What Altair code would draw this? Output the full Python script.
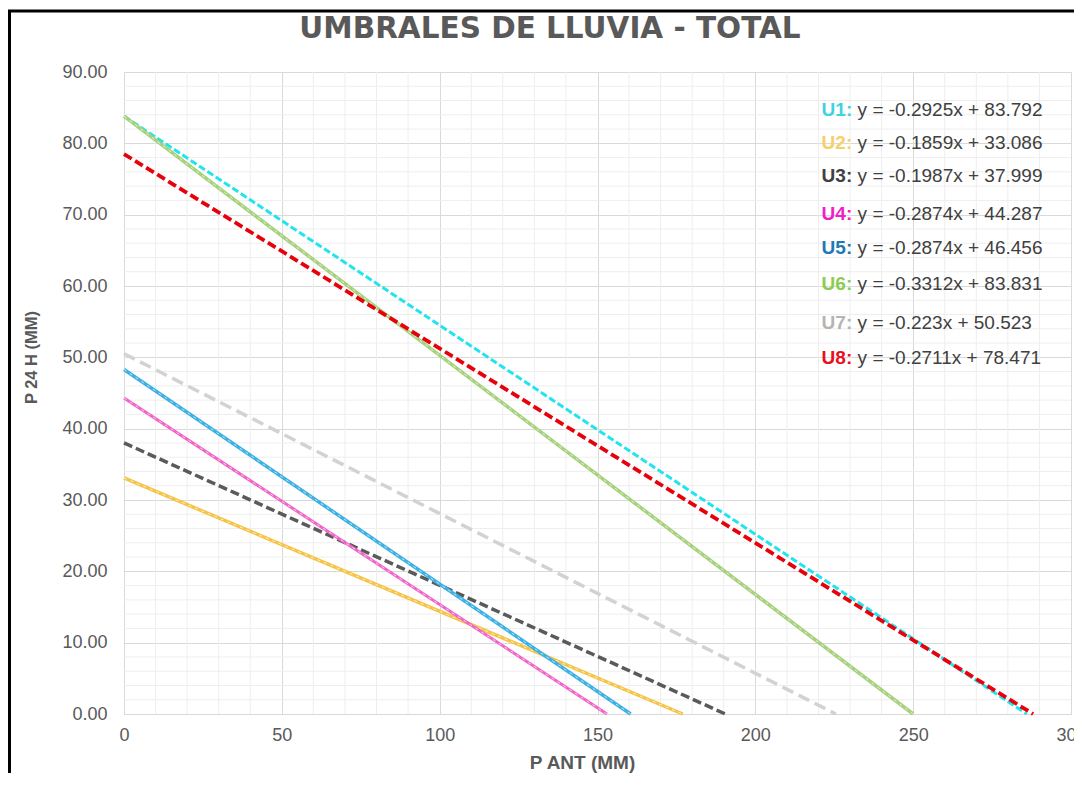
import altair as alt
import pandas as pd

# ---------------- data ----------------
series = ["U1", "U2", "U3", "U4", "U5", "U6", "U7", "U8"]
start_y = [83.8, 33.1, 38.0, 44.3, 48.3, 83.8, 50.5, 78.5]      # value at P ANT = 0
end_x = [286.0, 177.0, 190.5, 153.0, 160.5, 250.0, 225.5, 288.0]  # P ANT where the line reaches 0
equations = [
    "y = -0.2925x + 83.792",
    "y = -0.1859x + 33.086",
    "y = -0.1987x + 37.999",
    "y = -0.2874x + 44.287",
    "y = -0.2874x + 46.456",
    "y = -0.3312x + 83.831",
    "y = -0.223x + 50.523",
    "y = -0.2711x + 78.471",
]
x_ticks = [0, 50, 100, 150, 200, 250, 300]
y_ticks = [0, 10, 20, 30, 40, 50, 60, 70, 80, 90]
x_minor = [v for v in range(10, 300, 10) if v % 50]
y_minor = [v for v in range(2, 90, 2) if v % 10]

# ---------------- styles / layout ----------------
line_colors = ["#22e4ee", "#f5c446", "#5a5a5a", "#f064c8", "#3cb0e2", "#a6d17c", "#d2d2d2", "#e8000b"]
line_dash = [[7, 3], None, [9, 4], None, None, None, [12, 6], [9, 4]]
line_width = [3, 3.5, 3.5, 3, 3.5, 3.5, 3.5, 3.8]
prefix_colors = ["#3fd3e0", "#f6cf6a", "#404040", "#f020c8", "#1f78b8", "#8ccc50", "#b4b4b4", "#e8101e"]
label_x = 221
label_y = [84.7, 80.0, 75.4, 70.1, 65.3, 60.3, 54.8, 49.9]

GRAY = "#595959"
FONT = "Liberation Sans"

rows = []
for s, y0, x1 in zip(series, start_y, end_x):
    rows.append({"serie": s, "x": 0.0, "y": y0})
    rows.append({"serie": s, "x": x1, "y": 0.0})
lines_df = pd.DataFrame(rows)

eq_df = pd.DataFrame({
    "serie": series,
    "pre": [s + ":" for s in series],
    "eq": equations,
    "lx": [label_x] * len(series),
    "ly": label_y,
})

xs = alt.Scale(domain=[0, 300], nice=False, zero=False)
ys = alt.Scale(domain=[0, 90], nice=False, zero=False)

x_axis = alt.Axis(
    values=x_ticks, format="d", grid=True, ticks=False, domain=False,
    labelFont=FONT, labelFontSize=18, labelColor=GRAY, labelPadding=12,
    labelFlush=False, labelOverlap=False, labelBound=False,
    title="P ANT (MM)", titleFont=FONT, titleFontSize=19, titleFontWeight="bold",
    titleColor=GRAY, titleX=458, titleY=54, titleAlign="center", titleBaseline="alphabetic",
)
y_axis = alt.Axis(
    values=y_ticks, format=".2f", grid=True, ticks=False, domain=False,
    labelFont=FONT, labelFontSize=18, labelColor=GRAY, labelPadding=17,
    labelFlush=False, labelOverlap=False, labelBound=False,
    title="P 24 H (MM)", titleFont=FONT, titleFontSize=16.5, titleFontWeight="bold",
    titleColor=GRAY, titleX=-93, titleY=285, titleAngle=270,
    titleAlign="center", titleBaseline="middle",
)


def X(field):
    return alt.X(field, scale=xs, axis=x_axis)


def Y(field):
    return alt.Y(field, scale=ys, axis=y_axis)


layers = []

# minor grid
layers.append(
    alt.Chart(pd.DataFrame({"v": x_minor})).mark_rule(color="#eeeeee", strokeWidth=1).encode(x=X("v:Q"))
)
layers.append(
    alt.Chart(pd.DataFrame({"v": y_minor})).mark_rule(color="#eeeeee", strokeWidth=1).encode(y=Y("v:Q"))
)

# threshold lines
for s, c, d, w in zip(series, line_colors, line_dash, line_width):
    kw = dict(color=c, strokeWidth=w)
    if d is not None:
        kw["strokeDash"] = d
    layers.append(
        alt.Chart(lines_df).transform_filter(alt.datum.serie == s).mark_line(**kw).encode(
            x=X("x:Q"), y=Y("y:Q")
        )
    )
    if d is None:
        layers.append(
            alt.Chart(lines_df).transform_filter(alt.datum.serie == s).mark_line(
                color="white", strokeWidth=1, strokeDash=[3, 4], opacity=0.7
            ).encode(x=X("x:Q"), y=Y("y:Q"))
        )

# equation labels
layers.append(
    alt.Chart(eq_df).mark_text(
        align="left", baseline="middle", font=FONT, fontSize=19, fontWeight="bold"
    ).encode(
        x=X("lx:Q"), y=Y("ly:Q"), text="pre:N",
        color=alt.Color("serie:N", scale=alt.Scale(domain=series, range=prefix_colors), legend=None),
    )
)
layers.append(
    alt.Chart(eq_df).mark_text(
        align="left", baseline="middle", font=FONT, fontSize=19, color="#404040", dx=36
    ).encode(x=X("lx:Q"), y=Y("ly:Q"), text="eq:N")
)

# chart title
layers.append(
    alt.Chart(pd.DataFrame({"t": ["UMBRALES DE LLUVIA - TOTAL"]})).mark_text(
        font="DejaVu Sans", fontSize=29.5, fontWeight="bold", color=GRAY,
        align="center", baseline="alphabetic",
    ).encode(text="t:N", x=alt.value(426), y=alt.value(-34))
)

# outer frame
layers.append(
    alt.Chart(pd.DataFrame({"a": [0]})).mark_rect(
        fillOpacity=0, stroke="black", strokeWidth=3
    ).encode(x=alt.value(-114.5), x2=alt.value(1100), y=alt.value(-61), y2=alt.value(800))
)

chart = alt.layer(*layers).properties(
    width=947, height=642,
    padding={"left": 116, "top": 64, "right": 3, "bottom": 59},
    autosize="none",
    background="white",
).configure_view(stroke="#d9d9d9", strokeWidth=1).configure_axis(gridColor="#d9d9d9", gridWidth=1)

chart.save("out.html", embed_options={"renderer": "svg", "actions": False})
